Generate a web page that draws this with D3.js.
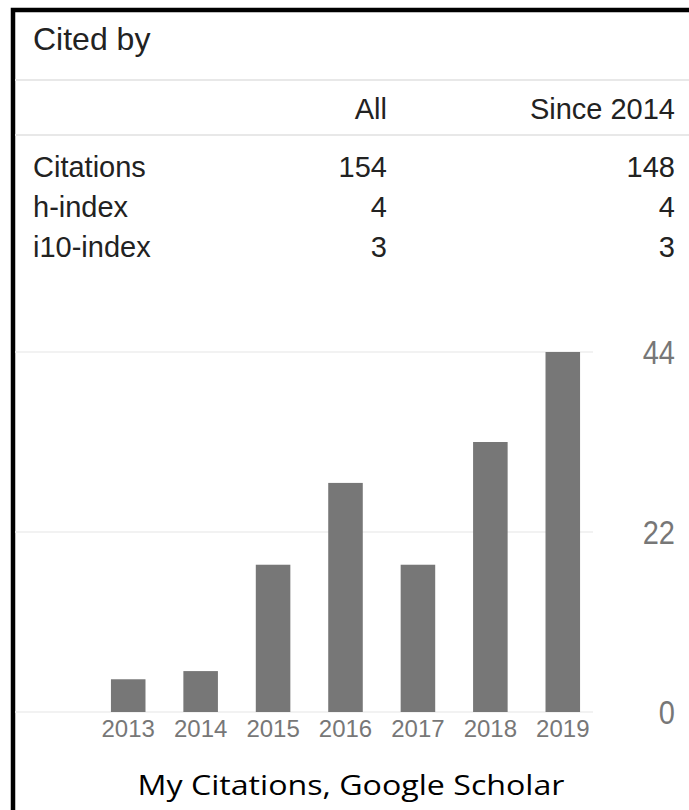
<!DOCTYPE html>
<html>
<head>
<meta charset="utf-8">
<script src="https://cdn.jsdelivr.net/npm/d3@7"></script>
<style>
  body { margin: 0; background: #fff; }
  svg { display: block; }
</style>
</head>
<body>
<div id="vis"></div>
<script>
// data
const years = ['2013', '2014', '2015', '2016', '2017', '2018', '2019'];
const citations = [4, 5, 18, 28, 18, 33, 44];
const yTicks = [0, 22, 44];
const tableCols = ['All', 'Since 2014'];
const rowLabels = ['Citations', 'h-index', 'i10-index'];
const allValues = [154, 4, 3];
const sinceValues = [148, 4, 3];
const caption = 'My Citations, Google Scholar';

const W = 689, H = 810;

const svg = d3.select('#vis')
    .append('svg')
    .attr('width', W)
    .attr('height', H);

// frame (top + left black border)
svg.append('path')
    .attr('d', `M13,${H} V10 H${W}`)
    .attr('fill', 'none')
    .attr('stroke', '#000')
    .attr('stroke-width', 4.5);

const font = '"Liberation Sans", Arial, sans-serif';

// header
svg.append('text')
    .attr('x', 33)
    .attr('y', 50)
    .attr('font-family', font)
    .attr('font-size', 32)
    .attr('fill', '#222')
    .text('Cited by');

// separators
[80, 135].forEach(y => {
    svg.append('line')
        .attr('x1', 15).attr('x2', W)
        .attr('y1', y).attr('y2', y)
        .attr('stroke', '#e8e8e8')
        .attr('stroke-width', 2);
});

const colX = [387, 675];

svg.selectAll('.colhead')
    .data(tableCols)
    .join('text')
    .attr('class', 'colhead')
    .attr('x', (d, i) => colX[i])
    .attr('y', 119)
    .attr('text-anchor', 'end')
    .attr('font-family', font)
    .attr('font-size', 29)
    .attr('fill', '#222')
    .text(d => d);

const rowY = [177, 217, 257];

svg.selectAll('.rowlabel')
    .data(rowLabels)
    .join('text')
    .attr('class', 'rowlabel')
    .attr('x', 33)
    .attr('y', (d, i) => rowY[i])
    .attr('font-family', font)
    .attr('font-size', 29)
    .attr('fill', '#222')
    .text(d => d);

[allValues, sinceValues].forEach((vals, c) => {
    svg.selectAll('.val' + c)
        .data(vals)
        .join('text')
        .attr('class', 'val' + c)
        .attr('x', colX[c])
        .attr('y', (d, i) => rowY[i])
        .attr('text-anchor', 'end')
        .attr('font-family', font)
        .attr('font-size', 29)
        .attr('fill', '#222')
        .text(d => d);
});

// chart scales
const pad = 0.523;
const xScale = d3.scaleBand()
    .domain(years)
    .range([92, 599])
    .paddingInner(pad)
    .paddingOuter(pad / 2);

const yScale = d3.scaleLinear()
    .domain([0, 44])
    .range([712, 352]);

// gridlines
svg.append('g')
    .selectAll('line')
    .data(yTicks)
    .join('line')
    .attr('x1', 15)
    .attr('x2', 593)
    .attr('y1', d => yScale(d))
    .attr('y2', d => yScale(d))
    .attr('stroke', '#eeeeee')
    .attr('stroke-width', 1.5);

// right axis (labels look a bit stretched vertically in the original)
const yAxis = d3.axisRight(yScale).tickValues(yTicks).tickSize(0);
const yAxisG = svg.append('g')
    .attr('transform', 'translate(675,0)')
    .call(yAxis);
yAxisG.select('.domain').remove();
yAxisG.selectAll('text')
    .attr('x', 0)
    .attr('dy', '0.36em')
    .attr('transform', 'scale(1,1.14)')
    .attr('text-anchor', 'end')
    .attr('font-family', font)
    .attr('font-size', 29)
    .attr('fill', '#777');

// bars
svg.selectAll('.bar')
    .data(citations)
    .join('rect')
    .attr('class', 'bar')
    .attr('x', (d, i) => xScale(years[i]))
    .attr('width', xScale.bandwidth())
    .attr('y', d => yScale(d))
    .attr('height', d => yScale(0) - yScale(d))
    .attr('fill', '#777');

// x axis
const xAxis = d3.axisBottom(xScale).tickSize(0);
const xAxisG = svg.append('g')
    .attr('transform', 'translate(0,712)')
    .call(xAxis);
xAxisG.select('.domain').remove();
xAxisG.selectAll('text')
    .attr('y', 0)
    .attr('dy', 25)
    .attr('font-family', font)
    .attr('font-size', 24)
    .attr('fill', '#777');

// caption
svg.append('text')
    .attr('x', 351)
    .attr('y', 795)
    .attr('text-anchor', 'middle')
    .attr('font-family', '"Open Sans", "Noto Sans", sans-serif')
    .attr('font-size', 28)
    .attr('textLength', 427)
    .attr('lengthAdjust', 'spacingAndGlyphs')
    .attr('fill', '#000')
    .text(caption);
</script>
</body>
</html>
